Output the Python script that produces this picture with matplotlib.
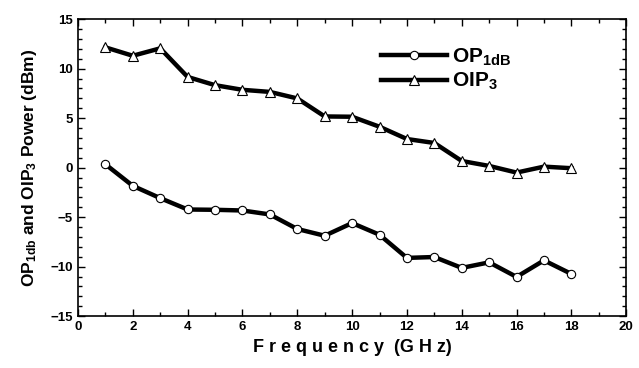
import matplotlib
matplotlib.use("Agg")
import matplotlib.pyplot as plt
from matplotlib.ticker import MultipleLocator

freq = [1, 2, 3, 4, 5, 6, 7, 8, 9, 10, 11, 12, 13, 14, 15, 16, 17, 18]
op1db = [0.34, -1.84, -3.08, -4.23, -4.26, -4.33, -4.73, -6.2, -6.88, -5.6,
         -6.78, -9.12, -9.03, -10.13, -9.57, -11.04, -9.37, -10.74]
oip3 = [12.15, 11.3, 12.05, 9.16, 8.33, 7.86, 7.65, 6.99, 5.17, 5.14,
        4.13, 2.89, 2.49, 0.67, 0.17, -0.5, 0.1, -0.06]

plt.rcParams['font.family'] = ['Liberation Sans', 'DejaVu Sans']
plt.rcParams['font.weight'] = 'bold'
plt.rcParams['mathtext.default'] = 'regular'

fig = plt.figure(figsize=(6.39, 3.68), dpi=100)
ax = fig.add_axes([0.122, 0.141, 0.858, 0.807])

ax.plot(freq, op1db, color='black', lw=3.2, marker='o', ms=6,
        mfc='white', mec='black', mew=0.8, label='OP$_{1dB}$')
ax.plot(freq, oip3, color='black', lw=3.2, marker='^', ms=7,
        mfc='white', mec='black', mew=0.8, label='OIP$_{3}$')

ax.set_xlim(0, 20)
ax.set_ylim(-15, 15)
ax.xaxis.set_major_locator(MultipleLocator(2))
ax.xaxis.set_minor_locator(MultipleLocator(1))
ax.yaxis.set_major_locator(MultipleLocator(5))
ax.yaxis.set_minor_locator(MultipleLocator(1))
ax.tick_params(which='both', direction='in', top=True, right=True,
               labelsize=9.5, width=1)
ax.tick_params(which='major', length=5)
ax.tick_params(which='minor', length=3)
for lab in ax.get_xticklabels() + ax.get_yticklabels():
    lab.set_fontweight('bold')
for s in ax.spines.values():
    s.set_linewidth(1.2)

ax.set_xlabel('F r e q u e n c y  (G H z)', fontsize=13, fontweight='bold', labelpad=4)
ax.set_ylabel('OP$_{1db}$ and OIP$_{3}$ Power (dBm)',
              fontsize=12.5, fontweight='bold', labelpad=8)

leg = ax.legend(loc='upper left', bbox_to_anchor=(0.537, 0.935), frameon=False,
                fontsize=15, handlelength=3.2, handletextpad=0.2,
                labelspacing=0.15, borderaxespad=0, markerscale=1.0)
for t in leg.get_texts():
    t.set_fontweight('bold')

fig.savefig('out.png', dpi=100)
